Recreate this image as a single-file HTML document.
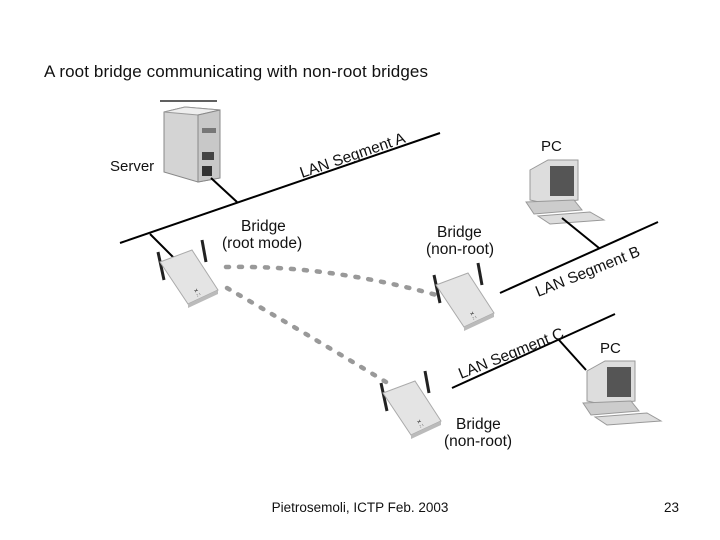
<!DOCTYPE html>
<html><head><meta charset="utf-8"><style>
html,body{margin:0;padding:0;background:#fff}
svg{display:block}
text{font-family:"Liberation Sans",sans-serif;fill:#111}
</style></head><body>
<svg width="720" height="540" viewBox="0 0 720 540" xmlns="http://www.w3.org/2000/svg">
<defs>
<g id="bridge">
  <line x1="-22" y1="-10" x2="-16" y2="18" stroke="#222" stroke-width="3"/>
  <line x1="22" y1="-22" x2="26" y2="0" stroke="#222" stroke-width="3"/>
  <polygon points="-20,0 12,-12 38,28 8,42" fill="#e4e4e4" stroke="#aaa"/>
  <polygon points="8,42 38,28 38,32 8,46" fill="#bbb"/>
  <text x="14" y="28" font-size="6" fill="#777" transform="rotate(60 14 28)">x ::</text>
</g>
<g id="pc">
  <polygon points="0,10 18,0 48,0 48,40 18,44 0,40" fill="#ddd" stroke="#999"/>
  <rect x="20" y="6" width="24" height="30" fill="#555"/>
  <polygon points="-4,42 44,40 52,50 4,54" fill="#ccc" stroke="#999"/>
  <polygon points="8,56 60,52 74,60 20,64" fill="#ddd" stroke="#999"/>
</g>
</defs>
<text x="44" y="77" font-size="17" textLength="384">A root bridge communicating with non-root bridges</text>
<line x1="160" y1="101" x2="217" y2="101" stroke="#000" stroke-width="1.2"/>
<polygon points="164,112 185,107 220,110 220,178 198,182 164,172" fill="#d4d4d4" stroke="#888"/>
<polygon points="164,112 185,107 220,110 198,115" fill="#eee" stroke="#999"/>
<polygon points="198,115 220,110 220,178 198,182" fill="#c8c8c8" stroke="#888"/>
<rect x="202" y="128" width="14" height="5" fill="#777"/>
<rect x="202" y="152" width="12" height="8" fill="#444"/>
<rect x="202" y="166" width="10" height="10" fill="#333"/>
<text x="110" y="171" font-size="15">Server</text>
<line x1="120" y1="243" x2="440" y2="133" stroke="#000" stroke-width="2"/>
<line x1="211" y1="178" x2="237" y2="202" stroke="#000" stroke-width="2"/>
<line x1="150" y1="234" x2="174" y2="258" stroke="#000" stroke-width="2"/>
<text x="302" y="178" font-size="15.5" transform="rotate(-19 302 178)">LAN Segment A</text>
<text x="241" y="231" font-size="15.5">Bridge</text>
<text x="222" y="248" font-size="15.5">(root mode)</text>
<path d="M226,267 Q330,265 440,296" fill="none" stroke="#999" stroke-width="4.5" stroke-dasharray="3,10" stroke-linecap="round"/>
<path d="M227,288 Q300,330 386,382" fill="none" stroke="#999" stroke-width="4.5" stroke-dasharray="3,10" stroke-linecap="round"/>
<use href="#bridge" x="180" y="262"/>
<use href="#bridge" x="456" y="285"/>
<use href="#bridge" x="403" y="393"/>
<text x="437" y="237" font-size="15.5">Bridge</text>
<text x="426" y="254" font-size="15.5">(non-root)</text>
<text x="456" y="429" font-size="15.5">Bridge</text>
<text x="444" y="446" font-size="15.5">(non-root)</text>
<text x="541" y="151" font-size="15">PC</text>
<use href="#pc" x="530" y="160"/>
<text x="600" y="353" font-size="15">PC</text>
<use href="#pc" x="587" y="361"/>
<line x1="500" y1="293" x2="658" y2="222" stroke="#000" stroke-width="2"/>
<line x1="562" y1="218" x2="599" y2="248" stroke="#000" stroke-width="2"/>
<text x="538" y="297" font-size="15.5" transform="rotate(-22 538 297)">LAN Segment B</text>
<line x1="452" y1="388" x2="615" y2="314" stroke="#000" stroke-width="2"/>
<line x1="559" y1="340" x2="586" y2="370" stroke="#000" stroke-width="2"/>
<text x="461" y="379" font-size="15.5" transform="rotate(-22 461 379)">LAN Segment C</text>
<text x="360" y="512" font-size="13.5" text-anchor="middle">Pietrosemoli, ICTP Feb. 2003</text>
<text x="664" y="512" font-size="13.5">23</text>
</svg>
</body></html>
